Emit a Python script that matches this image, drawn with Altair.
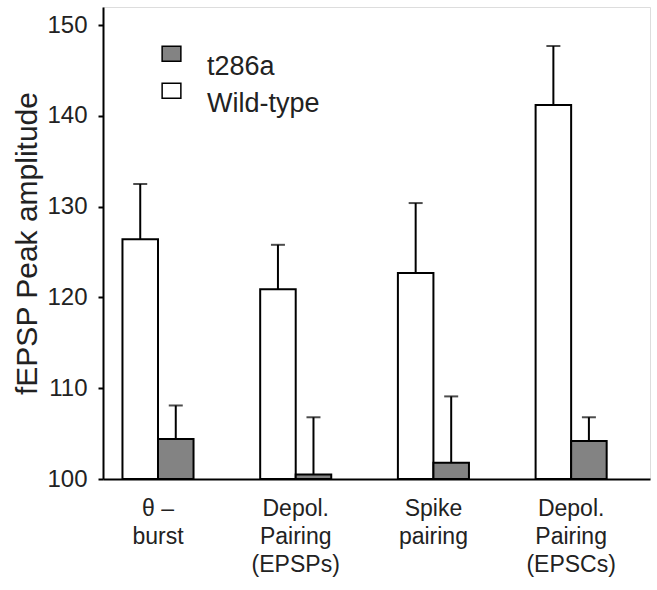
import altair as alt
import pandas as pd

categories = ["θ –|burst", "Depol.|Pairing|(EPSPs)", "Spike|pairing", "Depol.|Pairing|(EPSCs)"]
groups = ["t286a", "Wild-type"]
group_colors = ["#838383", "#ffffff"]
wt_mean = [126.4, 120.9, 122.7, 141.2]
wt_upper = [132.5, 125.8, 130.4, 147.7]
mut_mean = [104.4, 100.5, 101.8, 104.2]
mut_upper = [108.1, 106.8, 109.1, 106.8]
y_ticks = [100, 110, 120, 130, 140, 150]

rows = []
for i, c in enumerate(categories):
    rows.append(dict(cat=c, grp="Wild-type", mean=wt_mean[i], upper=wt_upper[i]))
    rows.append(dict(cat=c, grp="t286a", mean=mut_mean[i], upper=mut_upper[i]))
df = pd.DataFrame(rows)

FONT = "Liberation Sans"

x = alt.X(
    "cat:N", sort=categories,
    scale=alt.Scale(paddingInner=0.484, paddingOuter=0.228, align=0.31),
    axis=alt.Axis(title=None, labelExpr="split(datum.label, '|')", labelAngle=0,
                  ticks=False, domainWidth=2, domainColor="black",
                  labelFontSize=23, labelLineHeight=28, labelPadding=18,
                  labelColor="#222", labelFont=FONT, labelBaseline="top"),
)
xo = alt.XOffset("grp:N", sort=["Wild-type", "t286a"],
                 scale=alt.Scale(domain=["Wild-type", "t286a"], paddingInner=0, paddingOuter=0))
yscale = alt.Scale(domain=[100, 152], nice=False, zero=False)

# legend box drawn above the label's centre line, as in the original figure
legend_symbol = "M-1.1,-2.375H1.1V-0.625H-1.1Z"

bars = alt.Chart(df).mark_bar(stroke="black", strokeWidth=2).encode(
    x=x, xOffset=xo,
    y=alt.Y("mean:Q", scale=yscale,
            axis=alt.Axis(values=y_ticks, title="fEPSP Peak amplitude", grid=False,
                          domainWidth=2, domainColor="black", tickWidth=2, tickColor="black",
                          tickSize=5, labelFontSize=24, labelPadding=11, labelColor="#222",
                          labelFont=FONT, labelFontWeight="normal", titleFont=FONT, titleFontSize=30,
                          titleFontWeight="normal", titleColor="#222", titlePadding=4)),
    y2=alt.datum(100),
    color=alt.Color("grp:N", scale=alt.Scale(domain=groups, range=group_colors),
                    legend=alt.Legend(orient="none", legendX=55, legendY=46, title=None,
                                      symbolType=legend_symbol, symbolSize=290,
                                      symbolStrokeColor="black", symbolStrokeWidth=1.5,
                                      labelFontSize=27, labelFont=FONT, labelColor="#222",
                                      labelOffset=22, rowPadding=0, labelBaseline="middle",
                                      padding=0)),
)

err = alt.Chart(df).mark_rule(strokeWidth=2, color="black").encode(
    x=x, xOffset=xo, y=alt.Y("mean:Q", scale=yscale), y2="upper:Q")

caps = alt.Chart(df).mark_tick(thickness=2, size=14, color="black").encode(
    x=x, xOffset=xo, y=alt.Y("upper:Q", scale=yscale))

chart = alt.layer(err, bars, caps).properties(
    width=547, height=472,
    autosize=alt.AutoSizeParams(type="none"),
    padding={"left": 103, "top": 7, "right": 7, "bottom": 111},
).configure_view(stroke=None).configure(background="white")

chart.save("out.html", embed_options={"renderer": "svg", "actions": False})
